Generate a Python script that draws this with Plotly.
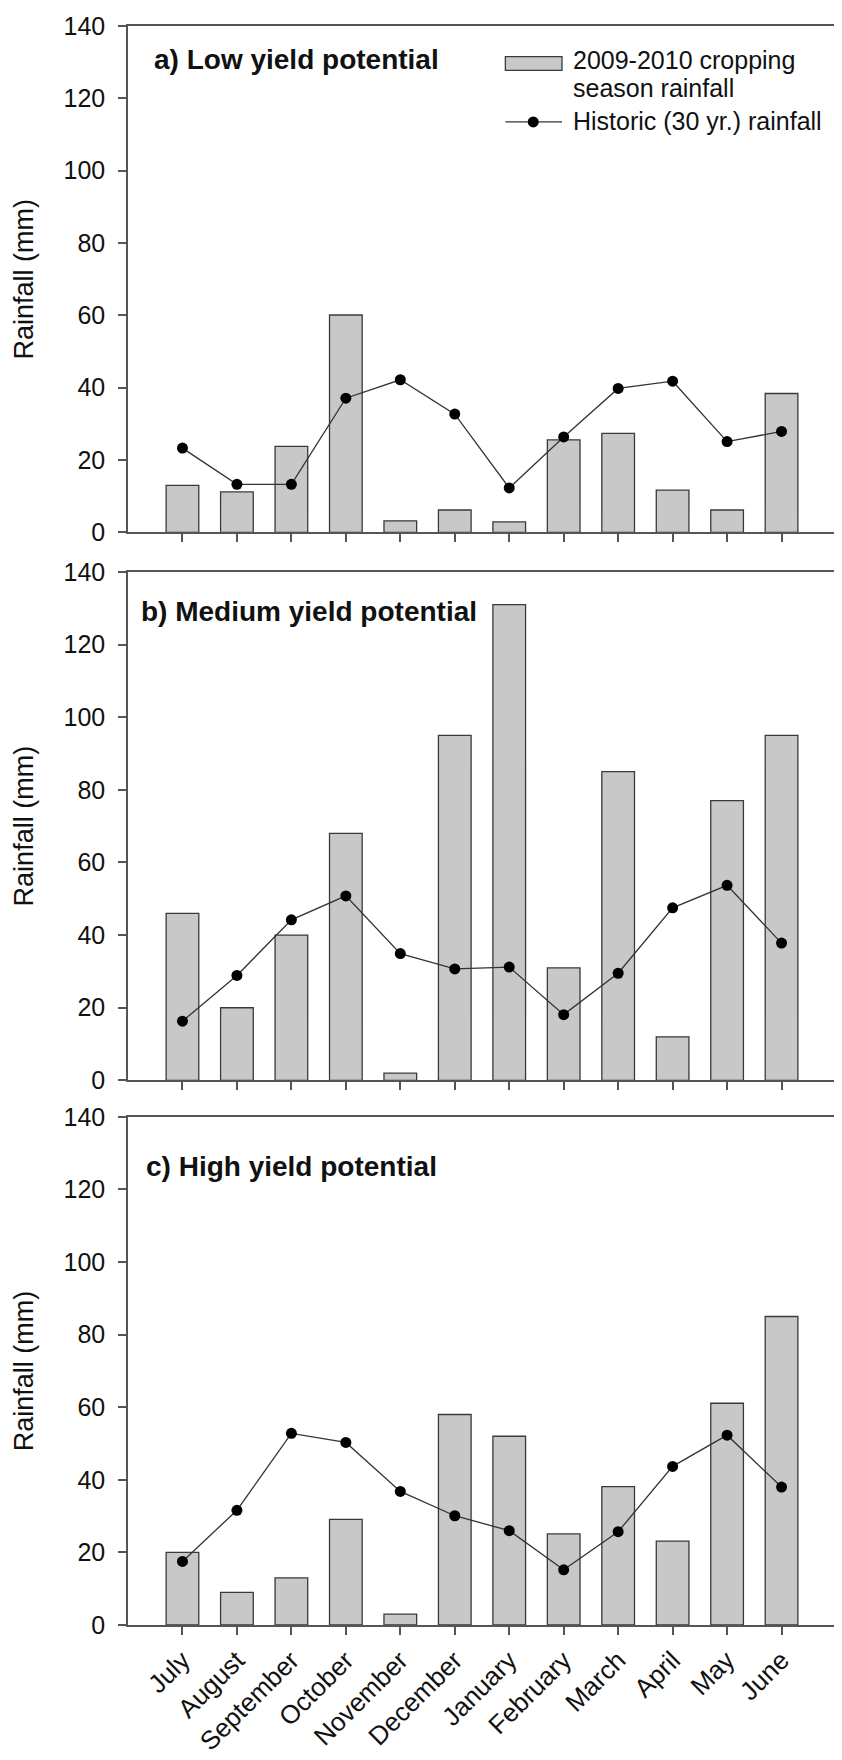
import plotly.graph_objects as go
from plotly.subplots import make_subplots

months = ["July", "August", "September", "October", "November", "December",
          "January", "February", "March", "April", "May", "June"]

# a) Low yield potential
low_season = [13, 11.2, 23.8, 60.1, 3.2, 6.2, 2.9, 25.6, 27.4, 11.7, 6.2, 38.4]
low_hist = [23.3, 13.3, 13.3, 37.1, 42.2, 32.7, 12.3, 26.4, 39.8, 41.8, 25.1, 27.9]

# b) Medium yield potential
med_season = [46, 20, 40, 68, 2, 95, 131, 31, 85, 12, 77, 95]
med_hist = [16.3, 28.9, 44.2, 50.8, 34.9, 30.7, 31.2, 18.1, 29.5, 47.5, 53.7, 37.8]

# c) High yield potential
high_season = [20, 9, 13, 29.1, 3, 58, 52, 25.1, 38.1, 23.1, 61.1, 85]
high_hist = [17.5, 31.6, 52.8, 50.3, 36.8, 30.1, 26.0, 15.2, 25.7, 43.7, 52.3, 38.0]

panel_titles = ["a) Low yield potential", "b) Medium yield potential", "c) High yield potential"]
y_ticks = [0, 20, 40, 60, 80, 100, 120, 140]

season_name = "2009-2010 cropping season rainfall"
hist_name = "Historic (30 yr.) rainfall"

FONT = "Liberation Sans, Arial, sans-serif"
AX = "#555555"
TXT = "#111111"
BAR_FILL = "#c8c8c8"
BAR_EDGE = "#3a3a3a"
LINE_C = "#333333"

fig = make_subplots(rows=3, cols=1)

xs = list(range(len(months)))
data = [(low_season, low_hist), (med_season, med_hist), (high_season, high_hist)]
for i, (s, h) in enumerate(data):
    r = i + 1
    fig.add_trace(go.Bar(x=xs, y=s, width=0.6, name=season_name,
                         marker=dict(color=BAR_FILL, line=dict(color=BAR_EDGE, width=1.3)),
                         showlegend=False), row=r, col=1)
    fig.add_trace(go.Scatter(x=xs, y=h, mode="lines+markers", name=hist_name,
                             line=dict(color=LINE_C, width=1.3),
                             marker=dict(color="black", size=11, symbol="circle"),
                             showlegend=False), row=r, col=1)

domains = [[0.6833, 1.0], [0.3406, 0.6586], [0.0, 0.3178]]
title_pos = [(0.034, 0.934), (0.016, 0.922), (0.022, 0.903)]
for i in range(3):
    xa = "xaxis" if i == 0 else f"xaxis{i+1}"
    ya = "yaxis" if i == 0 else f"yaxis{i+1}"
    fig.layout[ya].update(
        domain=domains[i], range=[0, 140], tickvals=y_ticks,
        showline=True, linecolor=AX, linewidth=1.5, mirror=True,
        ticks="outside", ticklen=8, tickcolor=AX, tickwidth=1.5,
        showgrid=False, zeroline=False, ticklabelstandoff=8,
        tickfont=dict(family=FONT, size=25, color=TXT),
        title=dict(text="Rainfall (mm)", font=dict(family=FONT, size=27, color=TXT), standoff=22),
    )
    fig.layout[xa].update(
        range=[-1, 12], tickvals=xs, ticktext=months if i == 2 else [""] * 12,
        showticklabels=(i == 2), tickangle=-45,
        showline=True, linecolor=AX, linewidth=1.5, mirror=True,
        ticks="outside", ticklen=8, tickcolor=AX, tickwidth=1.5,
        showgrid=False, zeroline=False,
        tickfont=dict(family=FONT, size=26, color=TXT),
    )
    yref = "y domain" if i == 0 else f"y{i+1} domain"
    xref = "x domain" if i == 0 else f"x{i+1} domain"
    fig.add_annotation(text=f"<b>{panel_titles[i]}</b>", xref=xref, yref=yref,
                       x=title_pos[i][0], y=title_pos[i][1],
                       xanchor="left", yanchor="middle", showarrow=False,
                       font=dict(family=FONT, size=28, color=TXT))

# Legend (drawn in panel a, paper coordinates of the plotting area)
legend_lines = ["2009-2010 cropping", "season rainfall", hist_name]
legend_text_y = [0.9785, 0.9610, 0.9406]
for t, yy in zip(legend_lines, legend_text_y):
    fig.add_annotation(text=t, xref="paper", yref="paper", x=0.6250, y=yy,
                       xanchor="left", yanchor="middle", showarrow=False,
                       font=dict(family=FONT, size=25, color=TXT))
fig.add_shape(type="rect", xref="paper", yref="paper", x0=0.533, x1=0.613, y0=0.9722, y1=0.9809,
              fillcolor=BAR_FILL, line=dict(color=BAR_EDGE, width=1.3))
fig.add_shape(type="line", xref="paper", yref="paper", x0=0.533, x1=0.613, y0=0.9400, y1=0.9400,
              line=dict(color=LINE_C, width=1.3))
fig.add_shape(type="circle", xref="paper", yref="paper", xsizemode="pixel", ysizemode="pixel",
              xanchor=0.5724, yanchor=0.9400, x0=-5.5, x1=5.5, y0=-5.5, y1=5.5,
              fillcolor="black", line=dict(color="black", width=0))

fig.update_layout(
    width=834, height=1752,
    margin=dict(l=120, r=4, t=14, b=131),
    plot_bgcolor="white", paper_bgcolor="white",
    showlegend=False,
)

fig.write_html("out.html")
